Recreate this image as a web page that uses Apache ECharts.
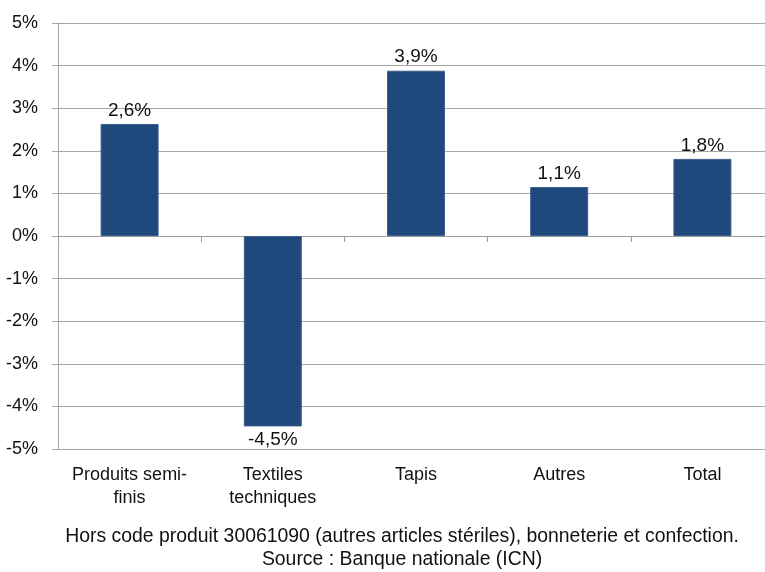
<!DOCTYPE html>
<html>
<head>
<meta charset="utf-8">
<script src="https://cdn.jsdelivr.net/npm/echarts@6/dist/echarts.min.js"></script>
<style>
  html, body { margin: 0; padding: 0; background: #ffffff; overflow: hidden; }
  /* the plot runs past the right edge of the picture */
  #chart { width: 774px; height: 572px; }
</style>
</head>
<body>
<div id="chart"></div>
<script>
// catégories et variations (%)
const categories = ["Produits semi-\nfinis", "Textiles\ntechniques", "Tapis", "Autres", "Total"];
const values = [2.63, -4.47, 3.88, 1.15, 1.81];
const yTicks = [-5, 5, 1]; // min, max, interval
const footnote = "Hors code produit 30061090 (autres articles stériles), bonneterie et confection.\nSource : Banque nationale (ICN)";

const fontFamily = "Liberation Sans, Arial, sans-serif";
const fmt = v => v.toFixed(1).replace(".", ",") + "%";

let option = {
  animation: false,
  textStyle: { fontFamily: fontFamily },
  grid: {
    left: 58,
    right: 0,
    top: 23,
    bottom: 123
  },
  title: {
    text: footnote,
    left: 397,
    top: 520,
    textAlign: "center",
    textStyle: {
      fontFamily: fontFamily,
      fontSize: 19.4,
      fontWeight: "normal",
      color: "#111111",
      lineHeight: 23
    }
  },
  xAxis: [
    {
      // labels en bas
      type: "category",
      data: categories,
      position: "bottom",
      axisLine: { show: false, onZero: false },
      axisTick: { show: false },
      axisLabel: {
        interval: 0,
        margin: 15,
        fontSize: 18,
        lineHeight: 23,
        color: "#111111",
        fontFamily: fontFamily
      }
    },
    {
      // ligne du zéro avec graduations
      type: "category",
      data: categories,
      position: "bottom",
      axisLine: { show: true, onZero: true, lineStyle: { color: "#9a9a9a", width: 1 } },
      axisTick: { show: true, interval: 0, length: 6, lineStyle: { color: "#9a9a9a" } },
      axisLabel: { show: false },
      splitLine: { show: false }
    }
  ],
  yAxis: {
    type: "value",
    min: yTicks[0],
    max: yTicks[1],
    interval: yTicks[2],
    axisLine: { show: true, lineStyle: { color: "#a6a6a6" } },
    axisTick: { show: true, length: 6, lineStyle: { color: "#a6a6a6" } },
    axisLabel: {
      margin: 20,
      fontSize: 18,
      color: "#111111",
      fontFamily: fontFamily,
      formatter: v => v + "%"
    },
    splitLine: { show: true, lineStyle: { color: "#a6a6a6", width: 1 } }
  },
  series: [
    {
      type: "bar",
      data: values.map(v => ({
        value: v,
        label: { position: v < 0 ? "bottom" : "top" }
      })),
      barWidth: 58,
      itemStyle: {
        color: "#1f497d",
        borderColor: "#3c5f8c",
        borderWidth: 1
      },
      label: {
        show: true,
        distance: 4,
        fontSize: 19,
        color: "#111111",
        fontFamily: fontFamily,
        formatter: p => fmt(p.value)
      }
    }
  ]
};

echarts.init(document.getElementById("chart")).setOption(option);
</script>
</body>
</html>
